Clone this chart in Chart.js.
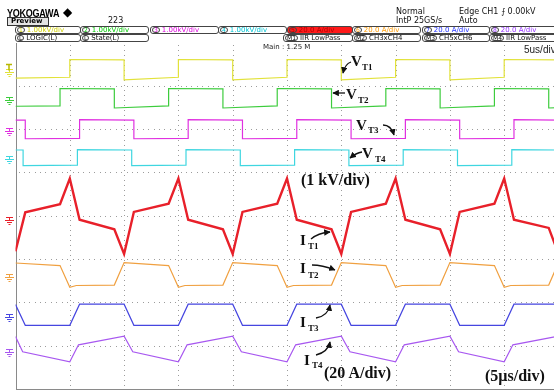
<!DOCTYPE html>
<html>
<head>
<meta charset="utf-8">
<script src="https://cdn.jsdelivr.net/npm/chart.js@4/dist/chart.umd.min.js"></script>
<style>
  html, body { margin: 0; padding: 0; background: #fff; }
  body { width: 554px; height: 392px; overflow: hidden; position: relative; font-family: "DejaVu Sans", sans-serif; }
  #scope { position: absolute; left: 0; top: 0; }
  .t { position: absolute; white-space: nowrap; line-height: 1; }
  .hdr { font-size: 8px; color: #111; }
  .box { position: absolute; height: 6px; border: 1px solid #444; border-radius: 3px; font-size: 7px; line-height: 6px; white-space: nowrap; overflow: hidden; padding-left: 1px; }
  .num { display: inline-block; border: 1px solid #444; border-radius: 3px; padding: 0 1px; line-height: 4px; height: 4px; margin-right: 2px; font-size: 6px; }
  .ann { position: absolute; font-family: "Liberation Serif", "DejaVu Serif", serif; font-weight: bold; color: #111; white-space: nowrap; line-height: 1; }
  .big { font-size: 15px; }
  .sub { font-size: 9px; }
  svg { position: absolute; left: 0; top: 0; }
</style>
</head>
<body>
<canvas id="scope" width="570" height="392"></canvas>

<!-- instrument header -->
<div class="t" style="left:7px;top:7px;font:bold 11px 'Liberation Sans',sans-serif;transform:scaleX(0.82);transform-origin:0 0;letter-spacing:-0.3px;">YOKOGAWA</div>
<div class="t" style="left:63px;top:6px;font-size:12px;">&#9670;</div>
<div class="t" style="left:7px;top:17px;width:37px;height:7px;border:1px solid #333;background:#e4e4e4;font:bold 7px 'DejaVu Sans',sans-serif;line-height:7px;padding-left:3px;box-sizing:content-box;">Preview</div>
<div class="t hdr" style="left:108px;top:17px;">223</div>
<div class="t hdr" style="left:396px;top:8px;">Normal</div>
<div class="t hdr" style="left:396px;top:17px;">IntP 25GS/s</div>
<div class="t hdr" style="left:459px;top:8px;">Edge CH1 &#10765; 0.00kV</div>
<div class="t hdr" style="left:459px;top:17px;">Auto</div>

<div class="box" style="left:15px;top:26px;width:63px;color:#d0d000;"><span class="num">1</span>1.00kV/div</div>
<div class="box" style="left:80px;top:26px;width:66px;color:#00c800;"><span class="num">2</span>1.00kV/div</div>
<div class="box" style="left:150px;top:26px;width:66px;color:#dd00dd;"><span class="num">3</span>1.00kV/div</div>
<div class="box" style="left:218px;top:26px;width:66px;color:#00c4d4;"><span class="num">4</span>1.00kV/div</div>
<div class="box" style="left:287px;top:26px;width:63px;color:#b00000;background:#ff1a1a;"><span class="num">5</span>20.0 A/div</div>
<div class="box" style="left:352px;top:26px;width:66px;color:#ff9a00;"><span class="num">6</span>20.0 A/div</div>
<div class="box" style="left:422px;top:26px;width:65px;color:#2030ff;"><span class="num">7</span>20.0 A/div</div>
<div class="box" style="left:489px;top:26px;width:70px;color:#9530ff;"><span class="num">8</span>20.0 A/div</div>

<div class="box" style="left:15px;top:34px;width:63px;color:#111;"><span class="num">L</span>LOGIC(L)</div>
<div class="box" style="left:80px;top:34px;width:66px;color:#111;"><span class="num">L</span>State(L)</div>
<div class="box" style="left:283px;top:34px;width:67px;color:#111;"><span class="num">M1</span>IIR LowPass</div>
<div class="box" style="left:352px;top:34px;width:66px;color:#111;"><span class="num">M2</span>CH3xCH4</div>
<div class="box" style="left:422px;top:34px;width:65px;color:#111;"><span class="num">M3</span>CH5xCH6</div>
<div class="box" style="left:489px;top:34px;width:70px;color:#111;"><span class="num">M4</span>IIR LowPass</div>

<div class="t" style="left:263px;top:44px;font-size:7px;color:#222;">Main : 1.25 M</div>
<div class="t" style="left:524px;top:44px;font:10px 'Liberation Sans',sans-serif;color:#222;">5us/div</div>

<!-- trace labels -->
<div class="ann" style="left:351px;top:53px;"><span class="big">V</span></div>
<div class="ann sub" style="left:362px;top:63px;">T1</div>
<div class="ann" style="left:346px;top:86px;"><span class="big">V</span></div>
<div class="ann sub" style="left:358px;top:96px;">T2</div>
<div class="ann" style="left:356px;top:117px;"><span class="big">V</span></div>
<div class="ann sub" style="left:368px;top:126px;">T3</div>
<div class="ann" style="left:362px;top:145px;"><span class="big">V</span></div>
<div class="ann sub" style="left:375px;top:155px;">T4</div>
<div class="ann" style="left:301px;top:172px;font-size:16px;">(1 kV/div)</div>

<div class="ann" style="left:300px;top:232px;"><span class="big">I</span></div>
<div class="ann sub" style="left:308px;top:242px;">T1</div>
<div class="ann" style="left:300px;top:260px;"><span class="big">I</span></div>
<div class="ann sub" style="left:308px;top:271px;">T2</div>
<div class="ann" style="left:300px;top:314px;"><span class="big">I</span></div>
<div class="ann sub" style="left:308px;top:324px;">T3</div>
<div class="ann" style="left:304px;top:352px;"><span class="big">I</span></div>
<div class="ann sub" style="left:312px;top:361px;">T4</div>
<div class="ann" style="left:324px;top:365px;font-size:16px;">(20 A/div)</div>
<div class="ann" style="left:485px;top:368px;font-size:16px;">(5&#181;s/div)</div>

<svg width="554" height="392">
  <defs>
    <marker id="ah" viewBox="0 0 10 10" refX="9" refY="5" markerWidth="5" markerHeight="5" orient="auto">
      <path d="M0,0 L10,5 L0,10 z" fill="#111"/>
    </marker>
  </defs>
  <g fill="none" stroke="#111" stroke-width="1.3" marker-end="url(#ah)">
    <path d="M351,62 Q345,64 343,73"/>
    <path d="M345,93 L333,93"/>
    <path d="M383,125 Q391,125 394,135"/>
    <path d="M362,152 Q356,153 350,158"/>
    <path d="M311,239 Q318,233 330,232"/>
    <path d="M312,265 Q322,265 335,270"/>
    <path d="M316,318 Q328,316 330,305"/>
    <path d="M316,355 Q328,352 330,342"/>
  </g>
</svg>

<script>
// Time in microseconds (5 us per division), level in screen divisions (0 = bottom, 8 = top)

// Gate voltages
const vT1Time = [0, 5, 5, 10, 10, 15, 15, 20, 20, 25, 25, 30, 30, 35, 35, 40, 40, 45, 45, 50];
const vT1Div  = [7.18, 7.20, 7.61, 7.60, 7.14, 7.20, 7.61, 7.60, 7.14, 7.20, 7.61, 7.60, 7.14, 7.20, 7.61, 7.60, 7.14, 7.20, 7.61, 7.60];

const vT2Time = [0, 4.1, 4.1, 9.1, 9.1, 14.1, 14.1, 19.1, 19.1, 24.1, 24.1, 29.1, 29.1, 34.1, 34.1, 39.1, 39.1, 44.1, 44.1, 49.1, 49.1, 50];
const vT2Div  = [6.53, 6.54, 6.94, 6.93, 6.49, 6.54, 6.94, 6.93, 6.49, 6.54, 6.94, 6.93, 6.49, 6.54, 6.94, 6.93, 6.49, 6.54, 6.94, 6.93, 6.49, 6.50];

const vT3Time = [0, 0.9, 0.9, 5.9, 5.9, 10.9, 10.9, 15.9, 15.9, 20.9, 20.9, 25.9, 25.9, 30.9, 30.9, 35.9, 35.9, 40.9, 40.9, 45.9, 45.9, 50];
const vT3Div  = [6.21, 6.21, 5.78, 5.79, 6.22, 6.21, 5.78, 5.79, 6.22, 6.21, 5.78, 5.79, 6.22, 6.21, 5.78, 5.79, 6.22, 6.21, 5.78, 5.79, 6.22, 6.21];

const vT4Time = [0, 0.7, 0.7, 5.7, 5.7, 10.7, 10.7, 15.7, 15.7, 20.7, 20.7, 25.7, 25.7, 30.7, 30.7, 35.7, 35.7, 40.7, 40.7, 45.7, 45.7, 50];
const vT4Div  = [5.52, 5.52, 5.16, 5.17, 5.53, 5.52, 5.16, 5.17, 5.53, 5.52, 5.16, 5.17, 5.53, 5.52, 5.16, 5.17, 5.53, 5.52, 5.16, 5.17, 5.53, 5.52];

// Switch currents
const iT1Time = [0, 0.9, 4.1, 5, 5.9, 9.1, 10, 10.9, 14.1, 15, 15.9, 19.1, 20, 20.9, 24.1, 25, 25.9, 29.1, 30, 30.9, 34.1, 35, 35.9, 39.1, 40, 40.9, 44.1, 45, 45.9, 49.1, 50];
const iT1Div  = [3.18, 4.08, 4.27, 4.86, 3.91, 3.69, 3.12, 4.09, 4.28, 4.86, 3.91, 3.69, 3.12, 4.09, 4.28, 4.86, 3.91, 3.69, 3.12, 4.09, 4.28, 4.86, 3.91, 3.69, 3.12, 4.09, 4.28, 4.86, 3.91, 3.72, 3.12];

const iT2Time = [0, 4.1, 5, 5.6, 9.1, 10, 14.1, 15, 15.6, 19.1, 20, 24.1, 25, 25.6, 29.1, 30, 34.1, 35, 35.6, 39.1, 40, 44.1, 45, 45.6, 49.1, 50];
const iT2Div  = [2.91, 2.85, 2.35, 2.39, 2.40, 2.92, 2.85, 2.35, 2.39, 2.40, 2.92, 2.85, 2.35, 2.39, 2.40, 2.92, 2.85, 2.35, 2.39, 2.40, 2.92, 2.85, 2.35, 2.39, 2.40, 2.92];

const iT3Time = [0, 0.9, 5, 5.9, 10, 10.9, 15, 15.9, 20, 20.9, 25, 25.9, 30, 30.9, 35, 35.9, 40, 40.9, 45, 45.9, 50];
const iT3Div  = [1.95, 1.47, 1.47, 1.96, 1.96, 1.47, 1.47, 1.96, 1.96, 1.47, 1.47, 1.96, 1.96, 1.47, 1.47, 1.96, 1.96, 1.47, 1.47, 1.96, 1.96];

const iT4Time = [0, 0.66, 5, 5.8, 10, 10.8, 15, 15.8, 20, 20.8, 25, 25.8, 30, 30.8, 35, 35.8, 40, 40.8, 45, 45.8, 50];
const iT4Div  = [1.21, 0.86, 0.63, 1.02, 1.22, 0.86, 0.63, 1.02, 1.22, 0.86, 0.63, 1.02, 1.22, 0.86, 0.63, 1.02, 1.22, 0.86, 0.63, 1.02, 1.22];

// Channel colours and the level of each channel's ground marker (divisions)
const channelColors = ['#e2e23a', '#3dcc3d', '#e030e0', '#3fd6e0', '#e8202a', '#f0a040', '#4646e0', '#a858f0'];
const groundMarkDiv = [7.32, 6.67, 5.96, 5.31, 3.90, 2.59, 1.66, 0.85];

const traces = [
  [vT1Time, vT1Div], [vT2Time, vT2Div], [vT3Time, vT3Div], [vT4Time, vT4Div],
  [iT1Time, iT1Div], [iT2Time, iT2Div], [iT3Time, iT3Div], [iT4Time, iT4Div]
];

const datasets = traces.map(([ts, ds], i) => ({
  data: ts.map((t, k) => ({ x: t, y: ds[k] })),
  borderColor: channelColors[i],
  borderWidth: i === 4 ? 2.4 : 1.2,
  pointRadius: 0,
  tension: 0,
  fill: false
}));

// Dotted division grid, drawn before the traces
const divisionGrid = {
  id: 'divisionGrid',
  beforeDatasetsDraw(chart) {
    const { ctx, chartArea: a, scales: { x, y } } = chart;
    ctx.save();
    ctx.fillStyle = '#9c9c9c';
    for (let t = 5; t < 50; t += 5) {
      const px = Math.round(x.getPixelForValue(t));
      for (let py = a.top + 2; py < a.bottom; py += 5) ctx.fillRect(px, Math.round(py), 1, 1);
    }
    for (let d = 1; d < 8; d++) {
      const py = Math.round(y.getPixelForValue(d));
      for (let px = a.left + 3; px < a.right; px += 5.4) ctx.fillRect(Math.round(px), py, 1, 1);
    }
    ctx.fillStyle = '#8a8a8a';
    ctx.fillRect(Math.round(a.left), Math.round(a.top), 1, Math.round(a.bottom - a.top) + 1);
    ctx.fillRect(Math.round(a.left), Math.round(a.bottom), Math.round(a.right - a.left), 1);
    ctx.restore();
  }
};

// Ground markers in the left margin, one per channel, plus the trigger mark of CH1
const groundMarkers = {
  id: 'groundMarkers',
  afterDraw(chart) {
    const { ctx, scales: { y } } = chart;
    ctx.save();
    groundMarkDiv.forEach((lvl, i) => {
      const py = Math.round(y.getPixelForValue(lvl)) + 0.5;
      ctx.strokeStyle = channelColors[i];
      ctx.lineWidth = 1;
      ctx.beginPath();
      ctx.moveTo(6, py - 3); ctx.lineTo(13, py - 3);
      ctx.moveTo(9.5, py - 3); ctx.lineTo(9.5, py);
      ctx.moveTo(5, py); ctx.lineTo(14, py);
      ctx.moveTo(7, py + 2); ctx.lineTo(12, py + 2);
      ctx.moveTo(8.5, py + 4); ctx.lineTo(10.5, py + 4);
      ctx.stroke();
    });
    const ty = Math.round(y.getPixelForValue(7.5)) + 0.5;
    ctx.strokeStyle = '#b8b800';
    ctx.lineWidth = 1.5;
    ctx.beginPath();
    ctx.moveTo(6, ty); ctx.lineTo(12, ty);
    ctx.moveTo(9, ty); ctx.lineTo(9, ty + 6);
    ctx.stroke();
    ctx.restore();
  }
};

new Chart(document.getElementById('scope'), {
  type: 'line',
  data: { datasets },
  options: {
    responsive: false,
    animation: false,
    events: [],
    layout: { padding: { left: 15.5, top: 42.6, right: 11.5, bottom: 3 } },
    plugins: { legend: { display: false }, tooltip: { enabled: false } },
    scales: {
      x: {
        type: 'linear', min: 0, max: 50,
        ticks: { display: false, stepSize: 5 },
        grid: { display: false, drawTicks: false },
        border: { display: false }
      },
      y: {
        type: 'linear', min: 0, max: 8,
        ticks: { display: false, stepSize: 1 },
        grid: { display: false, drawTicks: false },
        border: { display: false }
      }
    }
  },
  plugins: [divisionGrid, groundMarkers]
});
</script>
</body>
</html>
